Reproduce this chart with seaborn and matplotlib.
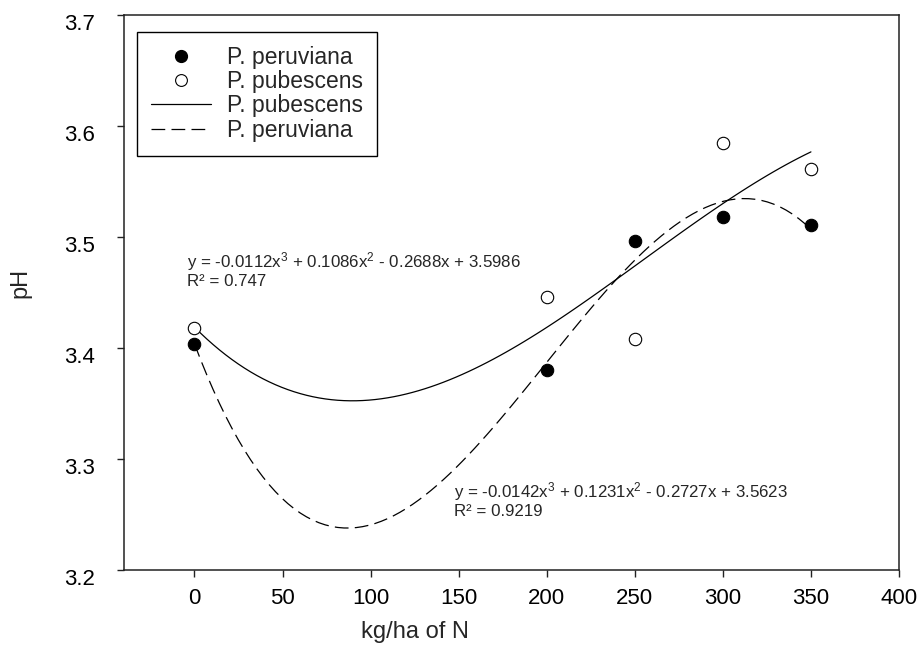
import matplotlib
matplotlib.use("Agg")
import matplotlib.pyplot as plt
import matplotlib.transforms as mtransforms
from matplotlib.lines import Line2D
import numpy as np
import pandas as pd
import seaborn as sns

# Nitrogen dose (kg/ha) and fruit pH for the two species
nitrogen = [0, 200, 250, 300, 350]
ph_peruviana = [3.404, 3.380, 3.496, 3.518, 3.511]
ph_pubescens = [3.418, 3.446, 3.408, 3.585, 3.561]

x_ticks = [0, 50, 100, 150, 200, 250, 300, 350, 400]
y_ticks = [3.2, 3.3, 3.4, 3.5, 3.6, 3.7]

eq_pubescens = r"y = -0.0112x$^3$ + 0.1086x$^2$ - 0.2688x + 3.5986"
r2_pubescens = "R² = 0.747"
eq_peruviana = r"y = -0.0142x$^3$ + 0.1231x$^2$ - 0.2727x + 3.5623"
r2_peruviana = "R² = 0.9219"

sns.set_style("ticks")
plt.rcParams["font.family"] = ["Liberation Sans", "DejaVu Sans"]
plt.rcParams["mathtext.fontset"] = "custom"
plt.rcParams["mathtext.rm"] = "Liberation Sans"
plt.rcParams["mathtext.it"] = "Liberation Sans"
plt.rcParams["mathtext.default"] = "rm"

df_per = pd.DataFrame({"N": nitrogen, "pH": ph_peruviana})
df_pub = pd.DataFrame({"N": nitrogen, "pH": ph_pubescens})

fig = plt.figure(figsize=(9.19, 6.49), dpi=100)
ax = fig.add_axes([124 / 919, 1 - 570 / 649, 775 / 919, 555 / 649])

lw = 0.9
dash = (0, (11, 5))
# cubic regressions
sns.regplot(data=df_pub, x="N", y="pH", order=3, ci=None, scatter=False,
            truncate=True, ax=ax,
            line_kws=dict(color="black", lw=lw, linestyle="-"))
sns.regplot(data=df_per, x="N", y="pH", order=3, ci=None, scatter=False,
            truncate=True, ax=ax,
            line_kws=dict(color="black", lw=lw, linestyle=dash))

# observations
sns.scatterplot(data=df_per, x="N", y="pH", ax=ax, color="black",
                edgecolor="black", s=80, linewidth=0.8, zorder=5)
sns.scatterplot(data=df_pub, x="N", y="pH", ax=ax, color="white",
                edgecolor="black", s=80, linewidth=0.8, zorder=5)

ax.set_xlim(-40, 400)
ax.set_ylim(3.2, 3.7)
ax.set_xticks(x_ticks)
ax.set_xticklabels([str(v) for v in x_ticks])
ax.set_yticks(y_ticks)
ax.set_yticklabels([f"{v:.1f}" for v in y_ticks])

for side in ["top", "bottom", "left", "right"]:
    ax.spines[side].set_visible(True)
    ax.spines[side].set_color("#222222")
    ax.spines[side].set_linewidth(1.1)

ax.tick_params(axis="both", direction="out", length=5, width=1.0,
               color="#222222", labelsize=16, labelcolor="black")
ax.tick_params(axis="x", pad=8)
ax.tick_params(axis="y", pad=16)

# y tick labels sit slightly below their ticks
shift = mtransforms.ScaledTranslation(0, -7 / 100, fig.dpi_scale_trans)
for lab in ax.get_yticklabels():
    lab.set_transform(lab.get_transform() + shift)

ax.set_xlabel("kg/ha of N", fontsize=17)
ax.set_ylabel("pH", fontsize=17)
ax.xaxis.set_label_coords((415 - 124) / 775, (570 - 632) / 555)
ax.xaxis.label.set_verticalalignment("center")
ax.yaxis.set_label_coords((20 - 124) / 775, (570 - 283) / 555)
ax.yaxis.label.set_verticalalignment("center")

# regression equations
ax.text(-4.5, 3.4775, eq_pubescens, fontsize=12.2, va="center", ha="left")
ax.text(-4.5, 3.4595, r2_pubescens, fontsize=12.2, va="center", ha="left")
ax.text(147.5, 3.2703, eq_peruviana, fontsize=12.2, va="center", ha="left")
ax.text(147.5, 3.2523, r2_peruviana, fontsize=12.2, va="center", ha="left")

handles = [
    Line2D([], [], ls="none", marker="o", markersize=8.5,
           markerfacecolor="black", markeredgecolor="black"),
    Line2D([], [], ls="none", marker="o", markersize=8.5,
           markerfacecolor="white", markeredgecolor="black", markeredgewidth=0.8),
    Line2D([], [], color="black", lw=lw, ls="-"),
    Line2D([], [], color="black", lw=lw, ls=dash),
]
labels = ["P. peruviana", "P. pubescens", "P. pubescens", "P. peruviana"]
leg = ax.legend(handles, labels, loc="upper left",
                bbox_to_anchor=((137 - 124) / 775, (570 - 32) / 555),
                frameon=True, fancybox=False, framealpha=1, edgecolor="black",
                fontsize=16.5, handlelength=2.6, handletextpad=0.7,
                labelspacing=0.05, borderpad=0.62, borderaxespad=0)
leg.get_frame().set_linewidth(1.0)

fig.savefig("out.png", dpi=100)
